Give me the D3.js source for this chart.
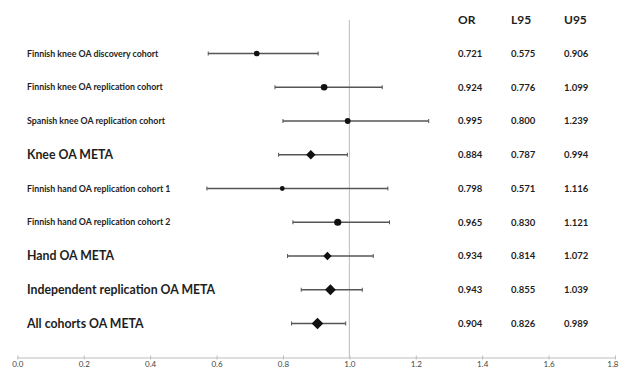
<!DOCTYPE html>
<html><head><meta charset="utf-8">
<script src="https://cdnjs.cloudflare.com/ajax/libs/d3/7.8.5/d3.min.js"></script>
<style>body{margin:0;background:#fff;}svg{display:block;}</style>
</head><body><svg id="c" width="620" height="372"></svg>
<script>
const labels = ["Finnish knee OA discovery cohort","Finnish knee OA replication cohort","Spanish knee OA replication cohort","Knee OA META","Finnish hand OA replication cohort 1","Finnish hand OA replication cohort 2","Hand OA META","Independent replication OA META","All cohorts OA META"];
const kinds = ["study","study","study","meta","study","study","meta","meta","meta"];
const orVals = [0.721,0.924,0.995,0.884,0.798,0.965,0.934,0.943,0.904];
const l95 = [0.575,0.776,0.800,0.787,0.571,0.830,0.814,0.855,0.826];
const u95 = [0.906,1.099,1.239,0.994,1.116,1.121,1.072,1.039,0.989];
const orText = ["0.721","0.924","0.995","0.884","0.798","0.965","0.934","0.943","0.904"];
const l95Text = ["0.575","0.776","0.800","0.787","0.571","0.830","0.814","0.855","0.826"];
const u95Text = ["0.906","1.099","1.239","0.994","1.116","1.121","1.072","1.039","0.989"];
const headers = ["OR","L95","U95"];
const xTicks = [0,0.2,0.4,0.6,0.8,1.0,1.2,1.4,1.6,1.8];

const svg = d3.select("#c");
const x = d3.scaleLinear().domain([0,1.8]).range([17.3,615]);
const y = d3.scalePoint().domain(d3.range(labels.length)).range([53.5,323.5]);
const colX = d3.scalePoint().domain(headers).range([458,564]);
const font = "Lato, 'Open Sans', sans-serif";
const ink = "#1e1e1e";

const rows = labels.map((l,i)=>({label:l,kind:kinds[i],or:orVals[i],lo:l95[i],hi:u95[i],
  txt:[orText[i],l95Text[i],u95Text[i]],prec:1/Math.log(u95[i]/l95[i])}));

const rCircle = d3.scaleLinear().domain(d3.extent(rows.filter(r=>r.kind==="study"),r=>r.prec)).range([2.4,3.6]);
const rDiamond = d3.scaleLinear().domain(d3.extent(rows.filter(r=>r.kind==="meta"),r=>r.prec)).range([4.2,5.8]);

// axis
const axis = d3.axisBottom(x).tickValues(xTicks).tickFormat(d3.format(".1f")).tickSizeInner(2).tickSizeOuter(0).tickPadding(2);
const ag = svg.append("g").attr("transform","translate(0,357.5)").call(axis);
ag.select(".domain").attr("stroke","#bbb");
ag.selectAll(".tick line").attr("stroke","#bbb").attr("y1",-2).attr("y2",2);
ag.selectAll(".tick text").attr("font-family",font).attr("font-size",8).attr("fill","#444");
ag.selectAll(".tick text").filter(d=>d===xTicks[xTicks.length-1]).attr("text-anchor","end").attr("dx",3);

// reference line
svg.append("line").attr("x1",x(1)).attr("x2",x(1)).attr("y1",20).attr("y2",357.5)
  .attr("stroke","#bbb").attr("stroke-width",1);

// CIs
const g = svg.append("g");
const rg = g.selectAll("g.row").data(rows).join("g").attr("class","row")
  .attr("transform",(d,i)=>`translate(0,${y(i)})`);
rg.append("line").attr("x1",d=>x(d.lo)).attr("x2",d=>x(d.hi)).attr("stroke","#555").attr("stroke-width",1.3);
rg.append("line").attr("x1",d=>x(d.lo)).attr("x2",d=>x(d.lo)).attr("y1",-2).attr("y2",2).attr("stroke","#555").attr("stroke-width",1);
rg.append("line").attr("x1",d=>x(d.hi)).attr("x2",d=>x(d.hi)).attr("y1",-2).attr("y2",2).attr("stroke","#555").attr("stroke-width",1);
rg.filter(d=>d.kind==="study").append("circle").attr("cx",d=>x(d.or)).attr("r",d=>rCircle(d.prec)).attr("fill","#111");
rg.filter(d=>d.kind==="meta").append("path")
  .attr("d",d=>{const s=rDiamond(d.prec),cx=x(d.or);return `M${cx-s},0L${cx},${-s}L${cx+s},0L${cx},${s}Z`;})
  .attr("fill","#111");

// labels
rg.append("text").attr("x",27).attr("dy","0.35em")
  .attr("font-family",font).attr("font-weight","bold")
  .attr("font-size",d=>d.kind==="meta"?12.3:8.8).attr("fill",ink).text(d=>d.label);

// table
svg.selectAll("text.hdr").data(headers).join("text").attr("class","hdr")
  .attr("x",d=>colX(d)).attr("y",20).attr("dy","0.35em")
  .attr("font-family",font).attr("font-weight","bold").attr("font-size",12).attr("fill",ink).text(d=>d);
rows.forEach((r,i)=>{
  headers.forEach((h,j)=>{
    svg.append("text").attr("x",colX(h)).attr("y",y(i)).attr("dy","0.35em")
      .attr("font-family",font).attr("font-weight","bold").attr("font-size",9.5).attr("fill",ink).text(r.txt[j]);
  });
});
</script></body></html>
